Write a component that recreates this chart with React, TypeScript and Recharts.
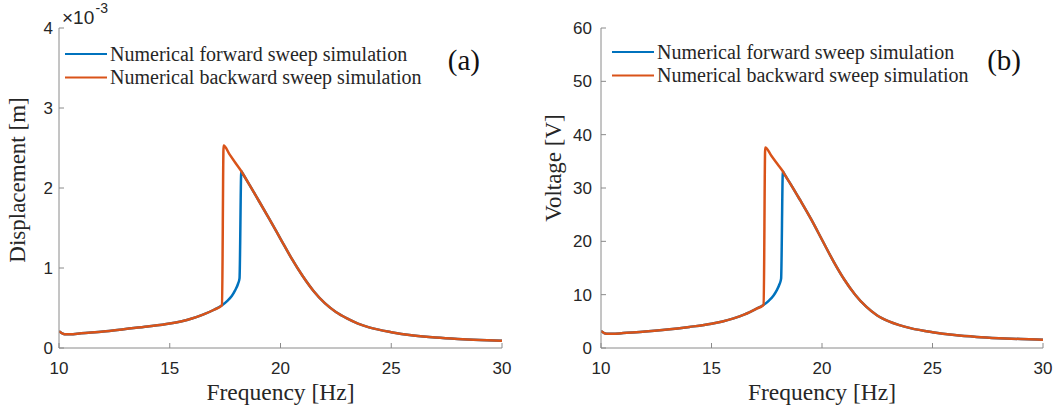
import React from 'react';
import { LineChart, Line, XAxis, YAxis, Legend } from 'recharts';

// frequency grid shared by both panels [Hz]
const lowFreq = [10, 10.25, 10.5, 11, 12, 13, 14, 15, 15.5, 16, 16.5, 17, 17.36];
const fwdJumpFreq = [17.6, 17.8, 17.95, 18.08, 18.15];
const bwdPeakFreq = [17.43, 17.7, 18.0];
const highFreq = [18.23, 18.3, 18.6, 19, 19.5, 20, 20.5, 21, 21.5, 22, 22.5, 23, 23.5, 24, 25, 26, 27, 28, 29, 30];

// (a) displacement, x 1e-3 m
const lowDisp = [0.21, 0.172, 0.172, 0.185, 0.207, 0.238, 0.268, 0.305, 0.332, 0.368, 0.417, 0.478, 0.535];
const fwdJumpDisp = [0.59, 0.65, 0.72, 0.8, 0.87];
const bwdPeakDisp = [2.53, 2.42, 2.3];
const highDisp = [2.21, 2.178, 2.04, 1.85, 1.61, 1.365, 1.12, 0.9, 0.71, 0.56, 0.45, 0.37, 0.305, 0.258, 0.198, 0.157, 0.13, 0.112, 0.1, 0.092];

// (b) voltage, V
const lowVolt = [3.18, 2.65, 2.65, 2.8, 3.08, 3.45, 3.95, 4.55, 4.98, 5.55, 6.3, 7.3, 8.1];
const fwdJumpVolt = [8.9, 9.8, 10.8, 12.0, 13.0];
const bwdPeakVolt = [37.6, 36.1, 34.4];
const highVolt = [33.1, 32.6, 30.6, 27.8, 24.2, 20.3, 16.4, 12.9, 10.0, 7.75, 6.1, 5.05, 4.3, 3.72, 2.95, 2.42, 2.08, 1.85, 1.68, 1.56];

const freqTicks = [10, 15, 20, 25, 30];
const dispTicks = [0, 1, 2, 3, 4];
const voltTicks = [0, 10, 20, 30, 40, 50, 60];

const BLUE = '#0072BD';
const ORANGE = '#D95319';
const AXIS = '#8a8a8a';
const INK = '#262626';
const SERIF = "'Liberation Serif', 'Tinos', 'Times New Roman', 'DejaVu Serif', serif";
const SANS = "'Liberation Sans', Arial, sans-serif";

type Pt = { f: number; v: number };
const zip = (fs: number[], vs: number[]): Pt[] => fs.map((f, i) => ({ f, v: vs[i] }));

type PanelProps = {
  offsetX: number;
  width: number;
  axisW: number;
  marginRight: number;
  yTicks: number[];
  forward: Pt[];
  backward: Pt[];
  yTitle: string;
  yTitleX: number;
  yTitleY: number;
  tag: string;
  exponent?: boolean;
  legendY: number;
  legendX: number;
};

function Panel(p: PanelProps) {
  const plotL = p.axisW;
  const plotR = p.width - p.marginRight;
  const yMax = p.yTicks[p.yTicks.length - 1];
  const tickStyle = { fill: INK, fontSize: 17, fontFamily: SANS };
  const serif = { fontFamily: SERIF };

  const legend = () => (
    <svg width={p.width} height={100} style={{ display: 'block', overflow: 'visible' }}>
      {[
        { name: 'Numerical forward sweep simulation', color: BLUE },
        { name: 'Numerical backward sweep simulation', color: ORANGE },
      ].map((s, i) => {
        const cy = p.legendY + i * 23.5;
        return (
          <g key={s.name}>
            <line x1={p.legendX} x2={p.legendX + 42} y1={cy} y2={cy} stroke={s.color} strokeWidth={2.2} />
            <text x={p.legendX + 45} y={cy + 6.8} style={serif} fontSize={20} fill={INK}>
              {s.name}
            </text>
          </g>
        );
      })}
      <text x={plotR - 22} y={70} textAnchor="end" style={serif} fontSize={29} fill="#111">
        {p.tag}
      </text>
    </svg>
  );

  return (
    <div style={{ position: 'absolute', left: p.offsetX, top: 0 }}>
      <LineChart width={p.width} height={414} margin={{ top: 28, right: p.marginRight, bottom: 0, left: 0 }}>
        <XAxis
          xAxisId="b"
          dataKey="f"
          type="number"
          domain={[10, 30]}
          ticks={freqTicks}
          allowDataOverflow
          height={66}
          stroke={AXIS}
          tickSize={-5}
          tickMargin={19}
          tick={tickStyle}
          label={() => (
            <text x={(plotL + plotR) / 2} y={400} textAnchor="middle" style={serif} fontSize={23.5} fill={INK}>
              Frequency [Hz]
            </text>
          )}
        />
        <XAxis
          xAxisId="t"
          orientation="top"
          dataKey="f"
          type="number"
          domain={[10, 30]}
          ticks={freqTicks}
          allowDataOverflow
          height={0}
          stroke={AXIS}
          tickSize={-5}
          tick={false}
        />
        <YAxis
          yAxisId="l"
          type="number"
          domain={[0, yMax]}
          ticks={p.yTicks}
          allowDataOverflow
          width={p.axisW}
          stroke={AXIS}
          tickSize={-5}
          tickMargin={p.axisW === 59 ? 11 : 14}
          tick={tickStyle}
          label={() => (
            <g>
              <text
                x={p.yTitleX}
                y={p.yTitleY}
                transform={`rotate(-90 ${p.yTitleX} ${p.yTitleY})`}
                textAnchor="middle"
                style={serif}
                fontSize={23}
                fill={INK}
              >
                {p.yTitle}
              </text>
              {p.exponent && (
                <text x={62} y={24} fontFamily={SANS} fontSize={19} fill={INK}>
                  ×10
                  <tspan x={95.5} y={13} fontSize={14}>
                    -3
                  </tspan>
                </text>
              )}
            </g>
          )}
        />
        <YAxis
          yAxisId="r"
          orientation="right"
          type="number"
          domain={[0, yMax]}
          ticks={p.yTicks}
          allowDataOverflow
          width={0}
          stroke={AXIS}
          tickSize={-5}
          tick={false}
        />
        <Legend
          layout="vertical"
          align="center"
          verticalAlign="middle"
          wrapperStyle={{ left: 0, top: 0, width: p.width }}
          content={legend}
        />
        <Line
          xAxisId="b"
          yAxisId="l"
          data={p.forward}
          dataKey="v"
          name="Numerical forward sweep simulation"
          type="monotone"
          stroke={BLUE}
          strokeWidth={2.5}
          dot={false}
          activeDot={false}
          isAnimationActive={false}
        />
        <Line
          xAxisId="b"
          yAxisId="l"
          data={p.backward}
          dataKey="v"
          name="Numerical backward sweep simulation"
          type="monotone"
          stroke={ORANGE}
          strokeWidth={2.5}
          dot={false}
          activeDot={false}
          isAnimationActive={false}
        />
      </LineChart>
    </div>
  );
}

export default function App() {
  const fwdA = [...zip(lowFreq, lowDisp), ...zip(fwdJumpFreq, fwdJumpDisp), ...zip(highFreq, highDisp)];
  const bwdA = [...zip(lowFreq, lowDisp), ...zip(bwdPeakFreq, bwdPeakDisp), ...zip(highFreq, highDisp)];
  const fwdB = [...zip(lowFreq, lowVolt), ...zip(fwdJumpFreq, fwdJumpVolt), ...zip(highFreq, highVolt)];
  const bwdB = [...zip(lowFreq, lowVolt), ...zip(bwdPeakFreq, bwdPeakVolt), ...zip(highFreq, highVolt)];

  return (
    <div style={{ position: 'absolute', left: 0, top: 0, width: 1057, height: 414, background: '#fff' }}>
      <Panel
        offsetX={0}
        width={530}
        axisW={59}
        marginRight={28}
        yTicks={dispTicks}
        forward={fwdA}
        backward={bwdA}
        yTitle="Displacement [m]"
        yTitleX={25}
        yTitleY={180}
        tag="(a)"
        exponent
        legendX={65}
        legendY={54}
      />
      <Panel
        offsetX={530}
        width={527}
        axisW={71}
        marginRight={14}
        yTicks={voltTicks}
        forward={fwdB}
        backward={bwdB}
        yTitle="Voltage [V]"
        yTitleX={31}
        yTitleY={168}
        tag="(b)"
        legendX={82}
        legendY={52}
      />
    </div>
  );
}
